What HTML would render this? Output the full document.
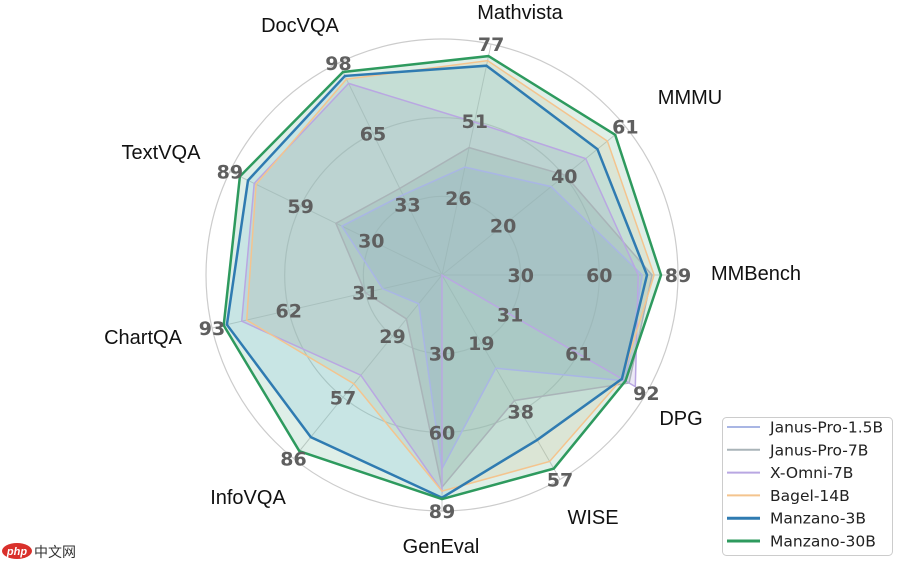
<!DOCTYPE html>
<html><head><meta charset="utf-8">
<style>
html,body{margin:0;padding:0;background:#fff;}
svg{display:block;}
.ax{font-family:"Liberation Sans","DejaVu Sans",sans-serif;font-size:20px;fill:#111;}
.tk{font-family:"DejaVu Sans","Liberation Sans",sans-serif;font-size:19px;font-weight:bold;fill:#5f5f5f;}
.lg{font-family:"DejaVu Sans","Liberation Sans",sans-serif;font-size:15.5px;fill:#222;}
</style></head>
<body>
<svg id="chart" width="897" height="562" viewBox="0 0 897 562" xmlns="http://www.w3.org/2000/svg">
<g id="grid"></g>
<g id="series"></g>
<g id="ticks"></g>
<g id="axlabels"></g>
<g id="legend"></g>
<g>
  <ellipse cx="17" cy="551" rx="15" ry="8" fill="#d9302b"/>
  <text x="17" y="555" text-anchor="middle" font-family="Liberation Sans,sans-serif" font-size="11" font-style="italic" font-weight="bold" fill="#fff">php</text>
  <text x="34" y="557" font-family="Liberation Sans,'Noto Sans CJK SC',sans-serif" font-size="14" fill="#333">中文网</text>
</g>
</svg>
<script>
const categories = ["Mathvista","MMMU","MMBench","DPG","WISE","GenEval","InfoVQA","ChartQA","TextVQA","DocVQA"];
const axisMax = [77,61,89,92,57,89,86,93,89,98];
const tickMid1 = [26,20,30,31,19,30,29,31,30,33];
const tickMid2 = [51,40,60,61,38,60,57,62,59,65];
const seriesNames = ["Janus-Pro-1.5B","Janus-Pro-7B","X-Omni-7B","Bagel-14B","Manzano-3B","Manzano-30B"];
const janus15 = [36,36.3,75.5,82.6,26,73,13.5,24,42,37];
const janus7 = [42.5,41,79.2,84.2,35,80,20.6,31,44.5,40];
const xomni = [51,47.8,74,87,0,81.5,47,81,78.8,88.5];
const bagel = [71.5,55,80,81,52,81.5,51,79,78,90.5];
const manzano3 = [69.8,51.7,77.3,81,46,84,76,87,81.4,92];
const manzano30 = [73,57.6,82.6,82.6,54,84.5,82.6,88.3,84.8,93.8];

const seriesValues = [janus15,janus7,xomni,bagel,manzano3,manzano30];
const colors = ["#a9b6e4","#a9b4b8","#b9a7e2","#f4c48e","#2f7bb1","#2e9a5e"];
const fills = ["#8fa8e0","#98aca8","#a89ad8","#e8c890","#7cc8e8","#6cb894"];
const widths = [1.5,1.5,1.5,1.5,2.5,2.5];
const fillOp = [0.3,0.3,0.22,0.22,0.22,0.22];
const CX=442, CY=275, R=236;
const angles = [12,51,90,120,150,180,219,257,296,334];
const NS="http://www.w3.org/2000/svg";
function rad(v,i){return v/axisMax[i]*R;}
function pt(r,i){const a=angles[i]*Math.PI/180;return [CX+Math.sin(a)*r, CY-Math.cos(a)*r];}
function mk(tag,attrs,parent){const e=document.createElementNS(NS,tag);for(const k in attrs)e.setAttribute(k,attrs[k]);parent.appendChild(e);return e;}

const grid=document.getElementById('grid');
[1/3,2/3,1].forEach((f,j)=>{
  const c=mk('circle',{cx:CX,cy:CY,r:R*f,fill:'none',stroke:'#cccccc','stroke-width':1.2},grid);
  
  
});
categories.forEach((c,i)=>{
  const p=pt(R,i);
  const l=mk('line',{x1:CX,y1:CY,x2:p[0],y2:p[1],stroke:'#cccccc','stroke-width':1},grid);
  
  
});

const sg=document.getElementById('series');
seriesValues.forEach((vals,s)=>{
  const pts=vals.map((v,i)=>pt(rad(v,i),i).map(n=>n.toFixed(1)).join(',')).join(' ');
  const pf=mk('polygon',{points:pts,fill:fills[s],'fill-opacity':fillOp[s],stroke:'none'},sg);
  
  
});
seriesValues.forEach((vals,s)=>{
  const pts=vals.map((v,i)=>pt(rad(v,i),i).map(n=>n.toFixed(1)).join(',')).join(' ');
  const pl=mk('polygon',{points:pts,fill:'none',stroke:colors[s],'stroke-width':widths[s],'stroke-linejoin':'miter'},sg);
  
  
});

const tg=document.getElementById('ticks');
categories.forEach((c,i)=>{
  [[tickMid1[i],1/3],[tickMid2[i],2/3],[axisMax[i],1]].forEach(([t,f],j)=>{
    const p=pt(R*f,i);
    const tx=mk('text',{x:p[0].toFixed(1),y:(p[1]+7).toFixed(1),'text-anchor':'middle',class:'tk'},tg);
    tx.textContent=t;
    
    
  });
});

const labelPos=[[520,19],[690,104],[756,280],[681,425],[593,524],[441,553],[248,504],[143,344],[161,159],[300,32]];
const ag=document.getElementById('axlabels');
categories.forEach((c,i)=>{
  const t=mk('text',{x:labelPos[i][0],y:labelPos[i][1],'text-anchor':'middle',class:'ax'},ag);
  t.textContent=c;
  
  
});

const lg=document.getElementById('legend');
const box=mk('rect',{x:722.5,y:417.5,width:170,height:138,rx:4,fill:'#fff','fill-opacity':0.85,stroke:'#cccccc'},lg);


seriesNames.forEach((n,s)=>{
  const y=427+s*22.8;
  const g=mk('g',{},lg);
  
  
  mk('line',{x1:727,y1:y,x2:760,y2:y,stroke:colors[s],'stroke-width':s>=4?3:2},g);
  const t=mk('text',{x:770,y:y+5.5,class:'lg'},g);
  t.textContent=n;
});
</script>
</body></html>
